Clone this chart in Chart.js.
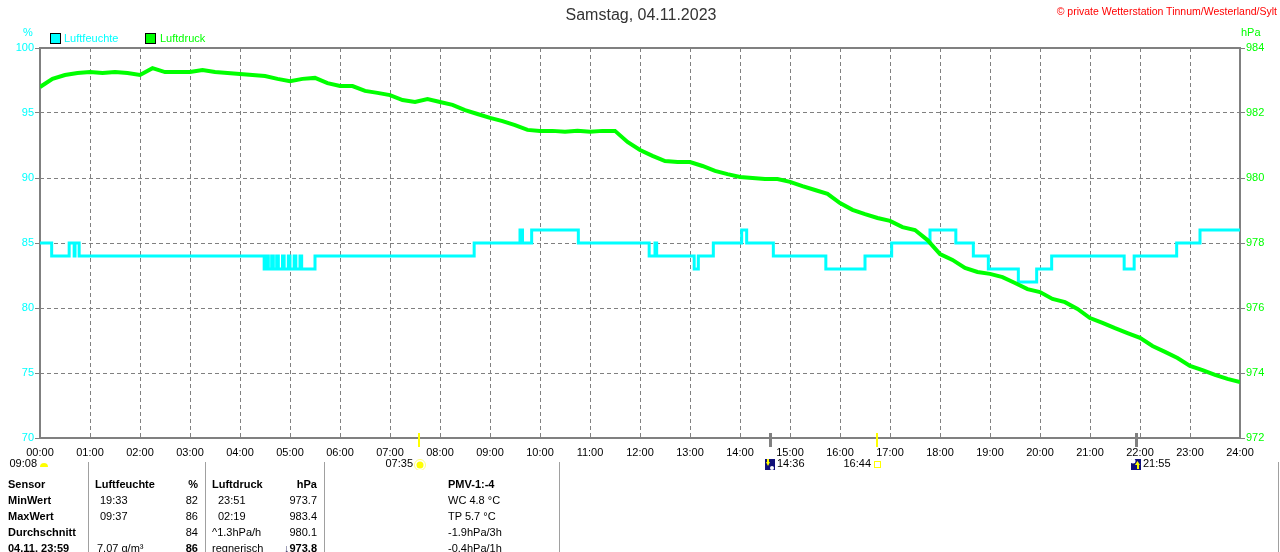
<!DOCTYPE html>
<html lang="de">
<head>
  <meta charset="UTF-8">
  <title>Samstag, 04.11.2023</title>
  <script src="https://cdn.jsdelivr.net/npm/chart.js"></script>
  <style>
    body {
      margin: 0;
      width: 1280px;
      height: 552px;
      overflow: hidden;
      position: relative;
      background: #fff;
      color: #000;
      font-family: "Liberation Sans", Arial, sans-serif;
      font-size: 11px;
    }
    #chartBox {
      position: absolute;
      left: 0;
      top: 0;
      width: 1280px;
      height: 470px;
    }
    .t {
      position: absolute;
      white-space: nowrap;
      line-height: 14px;
    }
    .b { font-weight: bold; }
    .r { text-align: right; }
    .sep {
      position: absolute;
      top: 462px;
      width: 1px;
      height: 90px;
      background: #a0a0a0;
    }
    .box {
      position: absolute;
      top: 33px;
      width: 9px;
      height: 9px;
      border: 1px solid #000;
    }
  </style>
</head>
<body>
  <div id="chartBox"><canvas id="wetterChart"></canvas></div>

  <div class="t" style="left:0; width:1282px; top:5px; text-align:center; font-size:16px; line-height:20px; color:#333;">Samstag, 04.11.2023</div>
  <div class="t" style="right:3px; top:4px; font-size:10.5px; color:#ff0000;">© private Wetterstation Tinnum/Westerland/Sylt</div>

  <div class="t" style="left:23px; top:25px; color:#00ffff;">%</div>
  <div class="t" style="left:1241px; top:25px; color:#00ff00;">hPa</div>
  <div class="box" style="left:50px; background:#00ffff;"></div>
  <div class="t" style="left:64px; top:31px; color:#00ffff;">Luftfeuchte</div>
  <div class="box" style="left:145px; background:#00ff00;"></div>
  <div class="t" style="left:160px; top:31px; color:#00ff00;">Luftdruck</div>

  <div class="sep" style="left:88px;"></div>
  <div class="sep" style="left:205px;"></div>
  <div class="sep" style="left:324px;"></div>
  <div class="sep" style="left:559px;"></div>
  <div class="sep" style="left:1278px;"></div>

  <div class="t b" style="left:8px; top:477px;">Sensor</div>
  <div class="t b" style="left:8px; top:493px;">MinWert</div>
  <div class="t b" style="left:8px; top:509px;">MaxWert</div>
  <div class="t b" style="left:8px; top:525px;">Durchschnitt</div>
  <div class="t b" style="left:8px; top:541px;">04.11. 23:59</div>

  <div class="t b" style="left:95px; top:477px;">Luftfeuchte</div>
  <div class="t b r" style="left:150px; width:48px; top:477px;">%</div>
  <div class="t" style="left:100px; top:493px;">19:33</div>
  <div class="t" style="left:100px; top:509px;">09:37</div>
  <div class="t" style="left:97px; top:541px;">7,07 g/m³</div>
  <div class="t r" style="left:150px; width:48px; top:493px;">82</div>
  <div class="t r" style="left:150px; width:48px; top:509px;">86</div>
  <div class="t r" style="left:150px; width:48px; top:525px;">84</div>
  <div class="t b r" style="left:150px; width:48px; top:541px;">86</div>

  <div class="t b" style="left:212px; top:477px;">Luftdruck</div>
  <div class="t b r" style="left:267px; width:50px; top:477px;">hPa</div>
  <div class="t" style="left:218px; top:493px;">23:51</div>
  <div class="t" style="left:218px; top:509px;">02:19</div>
  <div class="t" style="left:212px; top:525px;">^1.3hPa/h</div>
  <div class="t" style="left:212px; top:541px;">regnerisch</div>
  <div class="t r" style="left:267px; width:50px; top:493px;">973.7</div>
  <div class="t r" style="left:267px; width:50px; top:509px;">983.4</div>
  <div class="t r" style="left:267px; width:50px; top:525px;">980.1</div>
  <div class="t b r" style="left:262px; width:55px; top:541px;"><span style="color:#336;">↓</span>973.8</div>

  <div class="t b" style="left:448px; top:477px;">PMV-1:-4</div>
  <div class="t" style="left:448px; top:493px;">WC 4.8 °C</div>
  <div class="t" style="left:448px; top:509px;">TP 5.7 °C</div>
  <div class="t" style="left:448px; top:525px;">-1.9hPa/3h</div>
  <div class="t" style="left:448px; top:541px;">-0.4hPa/1h</div>

  <script>
    // Luftdruck (hPa), ein Wert alle 15 Minuten ab 00:00
    const pressureStepMin = 15;
    const pressureValues = [
      982.80, 983.05, 983.17, 983.23, 983.26, 983.23, 983.26, 983.23, 983.17, 983.38,
      983.26, 983.26, 983.26, 983.32, 983.26, 983.23, 983.20, 983.17, 983.14, 983.05,
      982.98, 983.05, 983.08, 982.92, 982.83, 982.83, 982.68, 982.62, 982.55, 982.40,
      982.34, 982.43, 982.34, 982.25, 982.09, 981.97, 981.85, 981.75, 981.63, 981.48,
      981.45, 981.45, 981.42, 981.45, 981.42, 981.45, 981.45, 981.11, 980.86, 980.68,
      980.52, 980.49, 980.49, 980.37, 980.22, 980.12, 980.03, 980.00, 979.97, 979.97,
      979.88, 979.75, 979.63, 979.51, 979.23, 979.02, 978.89, 978.77, 978.68, 978.49,
      978.40, 978.09, 977.66, 977.48, 977.23, 977.11, 977.05, 976.95, 976.77, 976.58,
      976.49, 976.28, 976.18, 975.97, 975.69, 975.54, 975.38, 975.23, 975.08, 974.83,
      974.65, 974.46, 974.22, 974.09, 973.94, 973.82, 973.72
    ];

    // Luftfeuchte (%): Zeitpunkt der Änderung und neuer Wert
    const humTimes = [
      '00:00', '00:14', '00:35', '00:41', '00:42', '00:47',
      '04:29', '04:32', '04:34', '04:38', '04:40', '04:44', '04:46', '04:51',
      '04:53', '04:58', '05:00', '05:05', '05:07', '05:12', '05:14', '05:30',
      '08:41', '09:36', '09:39', '09:50', '10:46', '12:11', '12:18', '12:20',
      '13:05', '13:10', '13:28', '14:02', '14:08', '14:40', '15:43', '16:30',
      '17:02', '17:48', '18:19', '18:40', '18:58', '19:34', '19:56', '20:14',
      '21:41', '21:53', '22:44', '23:12', '24:00'
    ];
    const humValues = [
      85, 84, 85, 84, 85, 84,
      83, 84, 83, 84, 83, 84, 83, 84,
      83, 84, 83, 84, 83, 84, 83, 84,
      85, 86, 85, 86, 85, 84, 85, 84,
      83, 84, 85, 86, 85, 84, 83, 84,
      85, 86, 85, 84, 83, 82, 83, 84,
      83, 84, 85, 86, 86
    ];

    const xTickLabels = [
      '00:00', '01:00', '02:00', '03:00', '04:00', '05:00', '06:00', '07:00', '08:00',
      '09:00', '10:00', '11:00', '12:00', '13:00', '14:00', '15:00', '16:00', '17:00',
      '18:00', '19:00', '20:00', '21:00', '22:00', '23:00', '24:00'
    ];

    // Sonnen- und Mondzeiten unter der Zeitachse
    const astroTimes = ['07:35', '14:36', '16:44', '21:55'];
    const astroKinds = ['sunrise', 'moonset', 'sunset', 'moonrise'];
    const moonStartLabel = '09:08';

    const CYAN = '#00ffff';
    const GREEN = '#00ff00';
    const GRID = '#808080';
    const FONT = '"Liberation Sans", Arial, sans-serif';

    function toMin(hhmm) {
      const [h, m] = hhmm.split(':').map(Number);
      return h * 60 + m;
    }

    const pressureData = pressureValues.map((v, i) => ({ x: i * pressureStepMin, y: v }));
    const humData = humTimes.map((t, i) => ({ x: toMin(t), y: humValues[i] }));

    const framePlugin = {
      id: 'frame',
      beforeDatasetsDraw(chart) {
        const { ctx, chartArea: a } = chart;
        ctx.save();
        ctx.strokeStyle = GRID;
        ctx.lineWidth = 2;
        ctx.strokeRect(a.left, a.top, a.right - a.left, a.bottom - a.top);
        ctx.restore();
      }
    };

    const astroPlugin = {
      id: 'astro',
      afterDraw(chart) {
        const { ctx, chartArea: a, scales: { x } } = chart;
        const y = 464;
        ctx.save();
        ctx.font = '11px ' + FONT;
        ctx.textBaseline = 'middle';
        ctx.fillStyle = '#000';

        // Mond am Tagesanfang
        ctx.textAlign = 'right';
        ctx.fillText(moonStartLabel, a.left - 3, y);
        ctx.fillStyle = '#ffff00';
        ctx.beginPath();
        ctx.arc(a.left + 4, y + 3, 4, Math.PI, 0);
        ctx.fill();

        astroTimes.forEach((t, i) => {
          const px = Math.round(x.getPixelForValue(toMin(t)));
          const kind = astroKinds[i];
          const isSun = kind.startsWith('sun');

          ctx.fillStyle = isSun ? '#ffff00' : GRID;
          ctx.fillRect(px - 1, a.bottom - 5, isSun ? 2 : 3, 14);

          if (isSun) {
            ctx.fillStyle = '#000';
            ctx.textAlign = 'right';
            ctx.fillText(t, px - 6, y);
            if (kind === 'sunrise') {
              ctx.fillStyle = '#ffff00';
              ctx.beginPath();
              ctx.arc(px + 1, y + 1, 3.5, 0, Math.PI * 2);
              ctx.fill();
              ctx.strokeStyle = '#ffff80';
              ctx.lineWidth = 1;
              ctx.beginPath();
              ctx.arc(px + 1, y + 1, 5.5, 0, Math.PI * 2);
              ctx.stroke();
            } else {
              ctx.strokeStyle = '#ffff00';
              ctx.lineWidth = 1;
              ctx.strokeRect(px - 2.5, y - 2.5, 6, 6);
            }
          } else {
            ctx.fillStyle = '#10107a';
            ctx.fillRect(px - 5, y - 5, 10, 11);
            ctx.fillStyle = '#ffff00';
            ctx.beginPath();
            if (kind === 'moonset') {
              ctx.moveTo(px - 4, y - 2); ctx.lineTo(px, y - 2); ctx.lineTo(px - 2, y + 2);
            } else {
              ctx.moveTo(px - 1, y + 1); ctx.lineTo(px + 4, y + 1); ctx.lineTo(px + 1.5, y - 3);
            }
            ctx.fill();
            ctx.fillRect(kind === 'moonset' ? px - 3 : px + 1, kind === 'moonset' ? y - 5 : y + 1, 2, 4);
            ctx.fillStyle = '#fff';
            ctx.beginPath();
            if (kind === 'moonset') ctx.arc(px + 2, y + 4, 2, 0, Math.PI * 2);
            else ctx.arc(px - 3, y - 3, 2.5, 0, Math.PI * 2);
            ctx.fill();
            ctx.fillStyle = '#000';
            ctx.textAlign = 'left';
            ctx.fillText(t, px + 7, y);
          }
        });
        ctx.restore();
      }
    };

    const ctx = document.getElementById('wetterChart').getContext('2d');
    new Chart(ctx, {
      type: 'line',
      data: {
        datasets: [
          {
            label: 'Luftfeuchte',
            data: humData,
            yAxisID: 'yH',
            borderColor: CYAN,
            borderWidth: 3,
            stepped: true,
            pointRadius: 0,
            order: 2
          },
          {
            label: 'Luftdruck',
            data: pressureData,
            yAxisID: 'yP',
            borderColor: GREEN,
            borderWidth: 4,
            tension: 0,
            pointRadius: 0,
            order: 1
          }
        ]
      },
      options: {
        responsive: true,
        maintainAspectRatio: false,
        animation: false,
        layout: { padding: { top: 48, left: 0, right: 0, bottom: 0 } },
        plugins: {
          legend: { display: false },
          tooltip: { enabled: false }
        },
        scales: {
          x: {
            type: 'linear',
            min: 0,
            max: 1440,
            afterFit: scale => { scale.height = 32; },
            ticks: {
              stepSize: 60,
              autoSkip: false,
              maxRotation: 0,
              padding: 8,
              color: '#000',
              font: { family: FONT, size: 11 },
              callback: (value, index) => xTickLabels[index]
            },
            grid: { color: GRID, drawTicks: false },
            border: { display: false, dash: [4, 3] }
          },
          yH: {
            position: 'left',
            min: 70,
            max: 100,
            afterFit: scale => { scale.width = 40; },
            ticks: {
              stepSize: 5,
              padding: 1,
              color: CYAN,
              font: { family: FONT, size: 11 }
            },
            grid: { color: GRID, tickLength: 5, tickColor: GRID },
            border: { display: false, dash: [4, 3] }
          },
          yP: {
            position: 'right',
            min: 972,
            max: 984,
            afterFit: scale => { scale.width = 40; },
            ticks: {
              stepSize: 2,
              padding: 1,
              color: GREEN,
              font: { family: FONT, size: 11 }
            },
            grid: { drawOnChartArea: false, tickLength: 5, color: GRID },
            border: { display: false }
          }
        }
      },
      plugins: [framePlugin, astroPlugin]
    });
  </script>
</body>
</html>
